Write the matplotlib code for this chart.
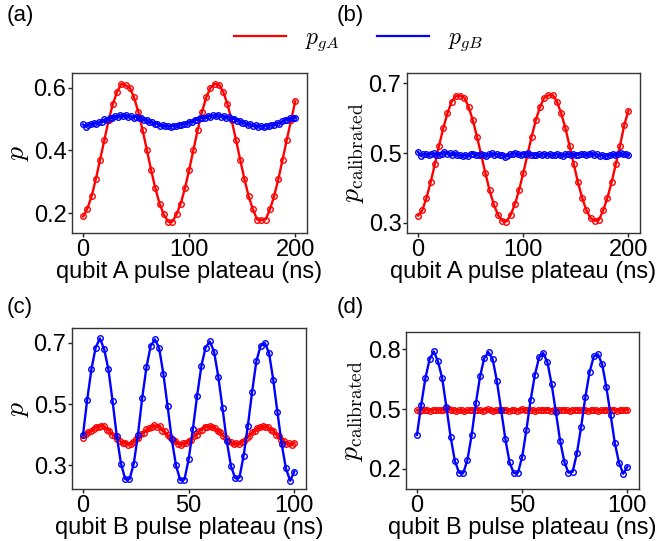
import numpy as np
import matplotlib
matplotlib.use('Agg')
import matplotlib.pyplot as plt

plt.rcParams['font.family'] = ['Liberation Sans', 'DejaVu Sans']
plt.rcParams['mathtext.fontset'] = 'cm'

RED = '#ff0000'
BLUE = '#0000ff'

# (a) qubit A sweep, raw populations
a_red = [0.190, 0.215, 0.254, 0.309, 0.371, 0.433, 0.496, 0.548, 0.587, 0.612,
         0.608, 0.600, 0.569, 0.523, 0.466, 0.403, 0.339, 0.280, 0.231, 0.196,
         0.173, 0.173, 0.196, 0.231, 0.280, 0.339, 0.403, 0.466, 0.523, 0.569,
         0.600, 0.612, 0.610, 0.587, 0.548, 0.496, 0.435, 0.371, 0.309, 0.254,
         0.212, 0.180, 0.178, 0.180, 0.212, 0.254, 0.309, 0.371, 0.435, 0.496,
         0.558]
a_blue = [0.483, 0.476, 0.482, 0.484, 0.487, 0.486, 0.490, 0.492, 0.499, 0.497,
          0.505, 0.503, 0.510, 0.506, 0.512, 0.509, 0.513, 0.508, 0.510, 0.505,
          0.508, 0.502, 0.503, 0.496, 0.497, 0.490, 0.491, 0.484, 0.485, 0.479,
          0.481, 0.477, 0.478, 0.476, 0.479, 0.477, 0.481, 0.480, 0.486, 0.485,
          0.492, 0.491, 0.498, 0.497, 0.504, 0.503, 0.505, 0.510, 0.508, 0.512,
          0.509, 0.513, 0.508, 0.510, 0.505, 0.506, 0.500, 0.501, 0.494, 0.494,
          0.488, 0.489, 0.482, 0.483, 0.478, 0.480, 0.476, 0.478, 0.475, 0.479,
          0.477, 0.482, 0.481, 0.487, 0.486, 0.493, 0.496, 0.497, 0.503, 0.502,
          0.505]

# (b) qubit A sweep, calibrated
b_red = [0.320, 0.335, 0.371, 0.416, 0.468, 0.521, 0.572, 0.615, 0.648, 0.664,
         0.665, 0.659, 0.633, 0.595, 0.547, 0.495, 0.442, 0.393, 0.352, 0.322,
         0.305, 0.303, 0.322, 0.352, 0.393, 0.442, 0.495, 0.547, 0.595, 0.633,
         0.659, 0.666, 0.667, 0.648, 0.615, 0.572, 0.521, 0.468, 0.416, 0.371,
         0.335, 0.313, 0.305, 0.308, 0.335, 0.371, 0.416, 0.468, 0.521, 0.580,
         0.622]
b_blue = [0.503, 0.492, 0.497, 0.496, 0.494, 0.497, 0.499, 0.495, 0.494, 0.498,
          0.503, 0.497, 0.499, 0.495, 0.500, 0.494, 0.493, 0.491, 0.494, 0.490,
          0.496, 0.498, 0.493, 0.495, 0.497, 0.494, 0.492, 0.496, 0.499, 0.495,
          0.497, 0.493, 0.494, 0.489, 0.492, 0.496, 0.498, 0.499, 0.496, 0.495,
          0.498, 0.497, 0.500, 0.494, 0.495, 0.493, 0.496, 0.494, 0.497, 0.495,
          0.497, 0.493, 0.495, 0.497, 0.494, 0.492, 0.496, 0.498, 0.495, 0.497,
          0.493, 0.495, 0.498, 0.496, 0.494, 0.497, 0.500, 0.495, 0.497, 0.492,
          0.494, 0.490, 0.491, 0.495, 0.497, 0.494, 0.497, 0.499, 0.496, 0.498,
          0.493]

# (c) qubit B sweep, raw populations
c_blue = [0.400, 0.515, 0.615, 0.685, 0.715, 0.680, 0.615, 0.510, 0.395, 0.305,
          0.255, 0.255, 0.305, 0.400, 0.520, 0.620, 0.690, 0.712, 0.684, 0.600,
          0.495, 0.385, 0.300, 0.252, 0.254, 0.320, 0.420, 0.528, 0.625, 0.685,
          0.705, 0.672, 0.590, 0.488, 0.380, 0.298, 0.258, 0.260, 0.332, 0.430,
          0.540, 0.640, 0.690, 0.700, 0.668, 0.580, 0.473, 0.370, 0.290, 0.250,
          0.280]
c_red = [0.390, 0.403, 0.408, 0.412, 0.419, 0.427, 0.426, 0.430, 0.429, 0.417,
         0.414, 0.401, 0.397, 0.385, 0.381, 0.372, 0.373, 0.368, 0.370, 0.375,
         0.386, 0.388, 0.402, 0.407, 0.418, 0.421, 0.425, 0.431, 0.425, 0.430,
         0.414, 0.411, 0.398, 0.394, 0.382, 0.379, 0.370, 0.368, 0.373, 0.372,
         0.381, 0.384, 0.396, 0.401, 0.414, 0.417, 0.426, 0.425, 0.429, 0.424,
         0.423, 0.412, 0.408, 0.396, 0.391, 0.379, 0.377, 0.369, 0.372, 0.369,
         0.377, 0.379, 0.391, 0.396, 0.408, 0.412, 0.423, 0.424, 0.430, 0.425,
         0.426, 0.417, 0.414, 0.401, 0.396, 0.384, 0.381, 0.371, 0.373, 0.368,
         0.374]

# (d) qubit B sweep, calibrated
d_blue = [0.370, 0.520, 0.655, 0.750, 0.790, 0.740, 0.655, 0.510, 0.360, 0.240,
          0.180, 0.178, 0.245, 0.370, 0.530, 0.665, 0.758, 0.786, 0.750, 0.640,
          0.495, 0.350, 0.232, 0.178, 0.180, 0.260, 0.395, 0.545, 0.670, 0.760,
          0.782, 0.735, 0.625, 0.485, 0.342, 0.235, 0.180, 0.185, 0.278, 0.410,
          0.560, 0.685, 0.765, 0.776, 0.725, 0.610, 0.472, 0.330, 0.230, 0.175,
          0.210]
d_red = [0.495, 0.492, 0.496, 0.494, 0.497, 0.493, 0.496, 0.498, 0.495, 0.497,
         0.494, 0.499, 0.502, 0.497, 0.495, 0.493, 0.496, 0.494, 0.491, 0.494,
         0.497, 0.495, 0.498, 0.494, 0.496, 0.493, 0.497, 0.499, 0.495, 0.492,
         0.494, 0.497, 0.495, 0.498, 0.494, 0.492, 0.496, 0.495, 0.493, 0.497,
         0.500, 0.496, 0.494, 0.497, 0.495, 0.493, 0.496, 0.498, 0.494, 0.495,
         0.497, 0.493, 0.495, 0.498, 0.496, 0.494, 0.497, 0.495, 0.493, 0.496,
         0.494, 0.497, 0.495, 0.498, 0.494, 0.492, 0.496, 0.495, 0.497, 0.493,
         0.495, 0.498, 0.494, 0.496, 0.495, 0.497, 0.493, 0.495, 0.494, 0.496,
         0.495]

panels = [
    ('(a)', a_red, a_blue, 200, (-10.5, 211), (0.137, 0.647), [0, 100, 200], [0.2, 0.4, 0.6],
     'qubit A pulse plateau (ns)', r'$p$'),
    ('(b)', b_red, b_blue, 200, (-10.5, 211), (0.27, 0.73), [0, 100, 200], [0.3, 0.5, 0.7],
     'qubit A pulse plateau (ns)', r'$p_{\rm calibrated}$'),
    ('(c)', c_red, c_blue, 100, (-5.2, 105.5), (0.223, 0.749), [0, 50, 100], [0.3, 0.5, 0.7],
     'qubit B pulse plateau (ns)', r'$p$'),
    ('(d)', d_red, d_blue, 100, (-5.2, 105.5), (0.098, 0.888), [0, 50, 100], [0.2, 0.5, 0.8],
     'qubit B pulse plateau (ns)', r'$p_{\rm calibrated}$'),
]

W, H = 664, 541
fig = plt.figure(figsize=(W / 100, H / 100), dpi=100)
# axes boxes in pixels: left, top, right, bottom
boxes = [(72, 73, 307, 233), (407, 73, 640, 233), (72, 328, 306, 489), (406, 332, 639, 489)]
label_pos = [(7, 5), (337, 5), (7, 297), (337, 297)]

for (tag, red, blue, tmax, xl, yl, xt, yt, xlab, ylab), (l, t, r, b), (lx, ly) in zip(panels, boxes, label_pos):
    ax = fig.add_axes([l / W, 1 - b / H, (r - l) / W, (b - t) / H])
    for vals, col in [(red, RED), (blue, BLUE)]:
        x = np.linspace(0, tmax, len(vals))
        ax.plot(x, vals, '-', color=col, lw=1.7)
        ax.plot(x, vals, 'o', mfc='none', mec=col, ms=4, mew=1.0)
    ax.set_xlim(*xl)
    ax.set_ylim(*yl)
    ax.set_xticks(xt)
    ax.set_yticks(yt)
    ax.set_yticklabels([f'{v:.1f}' for v in yt])
    ax.tick_params(labelsize=17, length=3, width=1, pad=1, colors='#222222', labelcolor='black')
    for s in ax.spines.values():
        s.set_color('#333333')
        s.set_linewidth(1.0)
    ax.set_xlabel(xlab, fontsize=17, labelpad=0)
    ax.set_ylabel(ylab, fontsize=20, labelpad=2)
    fig.text(lx / W, 1 - ly / H, tag, fontsize=16, ha='left', va='top')

# shared legend at top
h1, = plt.plot([], [], color=RED, lw=1.6)
h2, = plt.plot([], [], color=BLUE, lw=1.6)
fig.legend([h1, h2], [r'$p_{gA}$', r'$p_{gB}$'], loc='center', bbox_to_anchor=(0.54, 1 - 40 / H),
           ncol=2, frameon=False, fontsize=17, handlelength=2.2, columnspacing=1.6, handletextpad=0.8)

plt.savefig('out.png', dpi=100)
